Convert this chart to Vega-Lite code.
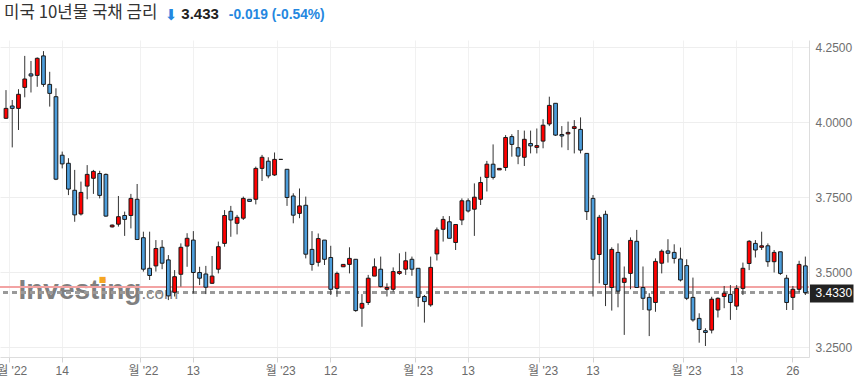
{
  "$schema": "https://vega.github.io/schema/vega-lite/v6.json",
  "width": 809,
  "height": 317,
  "autosize": {"type": "none"},
  "padding": {"left": 0, "top": 40, "right": 51, "bottom": 35},
  "background": "white",
  "config": {"view": {"stroke": null}, "font": "Liberation Sans"},
  "data": {"values": [
    {"d":"2022-10-31","o":4.014,"h":4.108,"l":4.012,"c":4.047},
    {"d":"2022-11-01","o":4.055,"h":4.075,"l":3.917,"c":4.047},
    {"d":"2022-11-02","o":4.047,"h":4.111,"l":3.975,"c":4.094},
    {"d":"2022-11-03","o":4.117,"h":4.222,"l":4.084,"c":4.145},
    {"d":"2022-11-04","o":4.162,"h":4.205,"l":4.100,"c":4.155},
    {"d":"2022-11-07","o":4.157,"h":4.217,"l":4.119,"c":4.214},
    {"d":"2022-11-08","o":4.222,"h":4.238,"l":4.119,"c":4.127},
    {"d":"2022-11-09","o":4.127,"h":4.169,"l":4.053,"c":4.097},
    {"d":"2022-11-10","o":4.086,"h":4.114,"l":3.808,"c":3.811},
    {"d":"2022-11-14","o":3.891,"h":3.903,"l":3.847,"c":3.862},
    {"d":"2022-11-15","o":3.864,"h":3.881,"l":3.758,"c":3.778},
    {"d":"2022-11-16","o":3.774,"h":3.842,"l":3.669,"c":3.692},
    {"d":"2022-11-17","o":3.695,"h":3.803,"l":3.690,"c":3.767},
    {"d":"2022-11-18","o":3.788,"h":3.858,"l":3.744,"c":3.827},
    {"d":"2022-11-21","o":3.814,"h":3.842,"l":3.762,"c":3.837},
    {"d":"2022-11-22","o":3.830,"h":3.839,"l":3.747,"c":3.757},
    {"d":"2022-11-23","o":3.827,"h":3.830,"l":3.686,"c":3.688},
    {"d":"2022-11-24","o":3.652,"h":3.660,"l":3.650,"c":3.658},
    {"d":"2022-11-25","o":3.661,"h":3.755,"l":3.653,"c":3.686},
    {"d":"2022-11-28","o":3.690,"h":3.703,"l":3.622,"c":3.677},
    {"d":"2022-11-29","o":3.690,"h":3.762,"l":3.647,"c":3.747},
    {"d":"2022-11-30","o":3.744,"h":3.795,"l":3.608,"c":3.610},
    {"d":"2022-12-01","o":3.616,"h":3.636,"l":3.503,"c":3.511},
    {"d":"2022-12-02","o":3.514,"h":3.636,"l":3.475,"c":3.490},
    {"d":"2022-12-05","o":3.522,"h":3.608,"l":3.503,"c":3.580},
    {"d":"2022-12-06","o":3.584,"h":3.608,"l":3.511,"c":3.531},
    {"d":"2022-12-07","o":3.542,"h":3.558,"l":3.408,"c":3.422},
    {"d":"2022-12-08","o":3.434,"h":3.508,"l":3.420,"c":3.486},
    {"d":"2022-12-09","o":3.494,"h":3.597,"l":3.453,"c":3.584},
    {"d":"2022-12-12","o":3.588,"h":3.631,"l":3.519,"c":3.614},
    {"d":"2022-12-13","o":3.608,"h":3.638,"l":3.430,"c":3.500},
    {"d":"2022-12-14","o":3.500,"h":3.519,"l":3.458,"c":3.481},
    {"d":"2022-12-15","o":3.495,"h":3.522,"l":3.428,"c":3.451},
    {"d":"2022-12-16","o":3.464,"h":3.555,"l":3.462,"c":3.488},
    {"d":"2022-12-19","o":3.511,"h":3.603,"l":3.497,"c":3.586},
    {"d":"2022-12-20","o":3.597,"h":3.708,"l":3.586,"c":3.690},
    {"d":"2022-12-21","o":3.704,"h":3.722,"l":3.619,"c":3.675},
    {"d":"2022-12-22","o":3.664,"h":3.692,"l":3.627,"c":3.684},
    {"d":"2022-12-23","o":3.681,"h":3.753,"l":3.675,"c":3.747},
    {"d":"2022-12-26","o":3.744,"h":3.744,"l":3.737,"c":3.737},
    {"d":"2022-12-27","o":3.744,"h":3.853,"l":3.727,"c":3.847},
    {"d":"2022-12-28","o":3.847,"h":3.892,"l":3.805,"c":3.884},
    {"d":"2022-12-29","o":3.871,"h":3.884,"l":3.814,"c":3.822},
    {"d":"2022-12-30","o":3.825,"h":3.900,"l":3.822,"c":3.877},
    {"d":"2023-01-02","o":3.877,"h":3.877,"l":3.877,"c":3.877},
    {"d":"2023-01-03","o":3.844,"h":3.844,"l":3.722,"c":3.750},
    {"d":"2023-01-04","o":3.755,"h":3.764,"l":3.664,"c":3.691},
    {"d":"2023-01-05","o":3.697,"h":3.780,"l":3.681,"c":3.722},
    {"d":"2023-01-06","o":3.724,"h":3.753,"l":3.547,"c":3.561},
    {"d":"2023-01-09","o":3.577,"h":3.638,"l":3.506,"c":3.527},
    {"d":"2023-01-10","o":3.534,"h":3.630,"l":3.520,"c":3.613},
    {"d":"2023-01-11","o":3.608,"h":3.608,"l":3.525,"c":3.544},
    {"d":"2023-01-12","o":3.550,"h":3.589,"l":3.425,"c":3.444},
    {"d":"2023-01-13","o":3.447,"h":3.503,"l":3.419,"c":3.497},
    {"d":"2023-01-16","o":3.519,"h":3.527,"l":3.519,"c":3.527},
    {"d":"2023-01-17","o":3.527,"h":3.584,"l":3.497,"c":3.547},
    {"d":"2023-01-18","o":3.544,"h":3.544,"l":3.369,"c":3.373},
    {"d":"2023-01-19","o":3.381,"h":3.428,"l":3.319,"c":3.397},
    {"d":"2023-01-20","o":3.400,"h":3.492,"l":3.392,"c":3.481},
    {"d":"2023-01-23","o":3.488,"h":3.547,"l":3.488,"c":3.519},
    {"d":"2023-01-24","o":3.511,"h":3.553,"l":3.450,"c":3.453},
    {"d":"2023-01-25","o":3.444,"h":3.464,"l":3.420,"c":3.450},
    {"d":"2023-01-26","o":3.444,"h":3.517,"l":3.436,"c":3.503},
    {"d":"2023-01-27","o":3.497,"h":3.564,"l":3.492,"c":3.503},
    {"d":"2023-01-30","o":3.511,"h":3.569,"l":3.492,"c":3.539},
    {"d":"2023-01-31","o":3.544,"h":3.553,"l":3.489,"c":3.511},
    {"d":"2023-02-01","o":3.514,"h":3.514,"l":3.386,"c":3.417},
    {"d":"2023-02-02","o":3.420,"h":3.425,"l":3.333,"c":3.403},
    {"d":"2023-02-03","o":3.392,"h":3.553,"l":3.386,"c":3.517},
    {"d":"2023-02-06","o":3.562,"h":3.650,"l":3.540,"c":3.642},
    {"d":"2023-02-07","o":3.644,"h":3.688,"l":3.603,"c":3.677},
    {"d":"2023-02-08","o":3.669,"h":3.688,"l":3.614,"c":3.614},
    {"d":"2023-02-09","o":3.600,"h":3.660,"l":3.575,"c":3.660},
    {"d":"2023-02-10","o":3.675,"h":3.747,"l":3.658,"c":3.739},
    {"d":"2023-02-13","o":3.739,"h":3.747,"l":3.700,"c":3.705},
    {"d":"2023-02-14","o":3.711,"h":3.797,"l":3.622,"c":3.751},
    {"d":"2023-02-15","o":3.744,"h":3.819,"l":3.725,"c":3.800},
    {"d":"2023-02-16","o":3.817,"h":3.872,"l":3.770,"c":3.861},
    {"d":"2023-02-17","o":3.861,"h":3.927,"l":3.810,"c":3.817},
    {"d":"2023-02-20","o":3.842,"h":3.847,"l":3.842,"c":3.847},
    {"d":"2023-02-21","o":3.850,"h":3.958,"l":3.839,"c":3.950},
    {"d":"2023-02-22","o":3.953,"h":3.961,"l":3.886,"c":3.927},
    {"d":"2023-02-23","o":3.916,"h":3.975,"l":3.861,"c":3.888},
    {"d":"2023-02-24","o":3.884,"h":3.973,"l":3.855,"c":3.944},
    {"d":"2023-02-27","o":3.930,"h":3.973,"l":3.897,"c":3.922},
    {"d":"2023-02-28","o":3.917,"h":3.980,"l":3.897,"c":3.923},
    {"d":"2023-03-01","o":3.938,"h":4.011,"l":3.914,"c":3.991},
    {"d":"2023-03-02","o":3.995,"h":4.086,"l":3.988,"c":4.057},
    {"d":"2023-03-03","o":4.064,"h":4.064,"l":3.955,"c":3.958},
    {"d":"2023-03-06","o":3.960,"h":3.988,"l":3.917,"c":3.955},
    {"d":"2023-03-07","o":3.962,"h":4.003,"l":3.908,"c":3.967},
    {"d":"2023-03-08","o":3.980,"h":4.008,"l":3.897,"c":3.986},
    {"d":"2023-03-09","o":3.977,"h":4.017,"l":3.897,"c":3.908},
    {"d":"2023-03-10","o":3.897,"h":3.897,"l":3.675,"c":3.703},
    {"d":"2023-03-13","o":3.747,"h":3.758,"l":3.420,"c":3.544},
    {"d":"2023-03-14","o":3.560,"h":3.692,"l":3.464,"c":3.684},
    {"d":"2023-03-15","o":3.694,"h":3.706,"l":3.388,"c":3.460},
    {"d":"2023-03-16","o":3.450,"h":3.584,"l":3.373,"c":3.577},
    {"d":"2023-03-17","o":3.567,"h":3.597,"l":3.384,"c":3.438},
    {"d":"2023-03-20","o":3.467,"h":3.520,"l":3.292,"c":3.481},
    {"d":"2023-03-21","o":3.497,"h":3.617,"l":3.444,"c":3.607},
    {"d":"2023-03-22","o":3.604,"h":3.642,"l":3.450,"c":3.450},
    {"d":"2023-03-23","o":3.450,"h":3.520,"l":3.375,"c":3.414},
    {"d":"2023-03-24","o":3.417,"h":3.431,"l":3.288,"c":3.375},
    {"d":"2023-03-27","o":3.400,"h":3.547,"l":3.369,"c":3.537},
    {"d":"2023-03-28","o":3.531,"h":3.577,"l":3.497,"c":3.571},
    {"d":"2023-03-29","o":3.572,"h":3.611,"l":3.533,"c":3.564},
    {"d":"2023-03-30","o":3.567,"h":3.594,"l":3.530,"c":3.547},
    {"d":"2023-03-31","o":3.545,"h":3.583,"l":3.470,"c":3.475},
    {"d":"2023-04-03","o":3.523,"h":3.544,"l":3.408,"c":3.414},
    {"d":"2023-04-04","o":3.417,"h":3.483,"l":3.336,"c":3.342},
    {"d":"2023-04-05","o":3.347,"h":3.364,"l":3.266,"c":3.310},
    {"d":"2023-04-06","o":3.306,"h":3.314,"l":3.255,"c":3.300},
    {"d":"2023-04-07","o":3.308,"h":3.419,"l":3.297,"c":3.411},
    {"d":"2023-04-10","o":3.375,"h":3.417,"l":3.350,"c":3.414},
    {"d":"2023-04-11","o":3.420,"h":3.455,"l":3.381,"c":3.431},
    {"d":"2023-04-12","o":3.427,"h":3.458,"l":3.342,"c":3.400},
    {"d":"2023-04-13","o":3.388,"h":3.458,"l":3.375,"c":3.447},
    {"d":"2023-04-14","o":3.447,"h":3.533,"l":3.425,"c":3.514},
    {"d":"2023-04-17","o":3.530,"h":3.608,"l":3.508,"c":3.604},
    {"d":"2023-04-18","o":3.597,"h":3.608,"l":3.550,"c":3.575},
    {"d":"2023-04-19","o":3.584,"h":3.636,"l":3.575,"c":3.589},
    {"d":"2023-04-20","o":3.589,"h":3.597,"l":3.519,"c":3.536},
    {"d":"2023-04-21","o":3.536,"h":3.575,"l":3.500,"c":3.567},
    {"d":"2023-04-24","o":3.569,"h":3.569,"l":3.492,"c":3.497},
    {"d":"2023-04-25","o":3.481,"h":3.492,"l":3.375,"c":3.400},
    {"d":"2023-04-26","o":3.417,"h":3.455,"l":3.375,"c":3.444},
    {"d":"2023-04-27","o":3.444,"h":3.539,"l":3.434,"c":3.527},
    {"d":"2023-04-28","o":3.522,"h":3.553,"l":3.425,"c":3.433}
  ]},
  "layer": [
    {
      "transform": [{"filter": "datum.d == '2022-11-02'"}],
      "mark": {"type": "text", "text": "Investing", "align": "left", "baseline": "alphabetic", "dx": 0, "font": "Liberation Sans", "fontSize": 28, "fontWeight": "bold", "fill": "#7a7a7a", "opacity": 0.95},
      "encoding": {
        "x": {"field": "d", "type": "ordinal", "axis": null},
        "y": {"datum": 3.4107, "axis": null}
      }
    },
    {
      "transform": [{"filter": "datum.d == '2022-12-01'"}],
      "mark": {"type": "text", "text": ".com", "align": "left", "baseline": "alphabetic", "dx": -2, "font": "Liberation Sans", "fontSize": 17, "fill": "#7a7a7a", "opacity": 0.95},
      "encoding": {"x": {"field": "d", "type": "ordinal", "axis": null}, "y": {"datum": 3.4107, "axis": null}}
    },
    {
      "transform": [{"filter": "datum.d == '2022-11-22'"}],
      "mark": {"type": "text", "text": "■", "align": "center", "baseline": "middle", "dx": 2.8, "font": "DejaVu Sans", "fontSize": 8, "fill": "#f5a623"},
      "encoding": {"x": {"field": "d", "type": "ordinal", "axis": null}, "y": {"datum": 3.475, "axis": null}}
    },
    {
      "mark": {"type": "rule", "color": "#f2a3a3", "strokeWidth": 1},
      "encoding": {"y": {"datum": 3.452, "axis": null}}
    },
    {
      "mark": {"type": "rule", "color": "#999999", "strokeWidth": 2, "strokeDash": [5, 4]},
      "encoding": {"y": {"datum": 3.433, "axis": null}}
    },
    {
      "mark": {"type": "rule", "color": "#333333", "strokeWidth": 1},
      "encoding": {
        "x": {
          "field": "d", "type": "ordinal",
          "scale": {"type": "band", "paddingInner": 0, "paddingOuter": 0.272, "align": 0.847},
          "axis": {
            "orient": "bottom",
            "values": ["2022-11-01", "2022-12-01", "2023-01-02", "2023-02-01", "2023-03-01", "2023-04-03"],
            "bandPosition": 0,
            "labelExpr": "\"월 '\" + substring(datum.value, 2, 4)",
            "title": null,
            "grid": true, "gridColor": "#f1f1f1",
            "domain": true, "domainColor": "#dddddd",
            "ticks": true, "tickColor": "#d4d4d4", "tickSize": 5,
            "labelAngle": 0, "labelPadding": 3.5, "labelFontSize": 12,
            "labelColor": "#6b6b6b", "labelFont": "Liberation Sans, Noto Sans CJK KR"
          }
        },
        "y": {
          "field": "l", "type": "quantitative", "title": null,
          "scale": {"domain": [3.2183, 4.275], "nice": false, "zero": false},
          "axis": {
            "orient": "right",
            "values": [3.25, 3.5, 3.75, 4, 4.25, 3.433],
            "format": ".4f",
            "labelFont": "Liberation Sans",
            "labelFontSize": 12,
            "labelAlign": "left",
            "labelBaseline": "middle",
            "labelOverlap": false,
            "labelColor": {"condition": {"test": "datum.value == 3.433", "value": "#ffffff"}, "value": "#6e6e6e"},
            "tickSize": 44,
            "tickWidth": {"condition": {"test": "datum.value == 3.433", "value": 18}, "value": 0},
            "tickColor": {"condition": {"test": "datum.value == 3.433", "value": "#222222"}, "value": "#ffffff"},
            "labelPadding": -38,
            "grid": true,
            "gridColor": {"condition": {"test": "datum.value == 3.433", "value": "#ffffff"}, "value": "#eeeeee"},
            "gridOpacity": {"condition": {"test": "datum.value == 3.433", "value": 0}, "value": 1},
            "domainColor": "#dddddd"
          }
        },
        "y2": {"field": "h"}
      }
    },
    {
      "mark": {"type": "bar", "width": {"band": 0.6}, "stroke": "#1a1a1a", "strokeWidth": 1},
      "encoding": {
        "x": {
          "field": "d", "type": "ordinal",
          "axis": {
            "orient": "bottom",
            "values": ["2022-11-14", "2022-12-13", "2023-01-12", "2023-02-13", "2023-03-13", "2023-04-13", "2023-04-26"],
            "bandPosition": 0.5,
            "labelExpr": "substring(datum.value, 8, 10)",
            "title": null,
            "grid": true, "gridColor": "#f1f1f1",
            "domain": false,
            "ticks": true, "tickColor": "#d4d4d4", "tickSize": 5,
            "labelAngle": 0, "labelPadding": 3.5, "labelFontSize": 12,
            "labelColor": "#6b6b6b", "labelFont": "Liberation Sans"
          }
        },
        "y": {"field": "o", "type": "quantitative", "title": null, "axis": null},
        "y2": {"field": "c"},
        "fill": {"condition": {"test": "datum.c > datum.o", "value": "#ff0000"}, "value": "#4c9ddb"}
      }
    },
    {
      "transform": [{"filter": "datum.d == '2022-10-31'"}],
      "mark": {"type": "text", "text": "미국 10년물 국채 금리", "align": "left", "baseline": "alphabetic", "dx": -2, "font": "Noto Sans CJK KR", "fontSize": 16.8, "fill": "#333333"},
      "encoding": {"x": {"field": "d", "type": "ordinal", "axis": null}, "y": {"datum": 4.3467, "axis": null}}
    },
    {
      "transform": [{"filter": "datum.d == '2022-12-07'"}],
      "mark": {"type": "text", "text": "⬇", "align": "center", "baseline": "middle", "dx": 2.6, "font": "DejaVu Sans", "fontSize": 15, "fill": "#2487e0"},
      "encoding": {"x": {"field": "d", "type": "ordinal", "axis": null}, "y": {"datum": 4.36, "axis": null}}
    },
    {
      "transform": [{"filter": "datum.d == '2022-12-09'"}],
      "mark": {"type": "text", "text": "3.433", "align": "left", "baseline": "alphabetic", "dx": 0.5, "font": "Liberation Sans", "fontSize": 15, "fontWeight": "bold", "fill": "#222222"},
      "encoding": {"x": {"field": "d", "type": "ordinal", "axis": null}, "y": {"datum": 4.345, "axis": null}}
    },
    {
      "transform": [{"filter": "datum.d == '2022-12-21'"}],
      "mark": {"type": "text", "text": "-0.019 (-0.54%)", "align": "left", "baseline": "alphabetic", "dx": -2, "font": "Liberation Sans", "fontSize": 13.8, "fontWeight": "bold", "fill": "#2487e0"},
      "encoding": {"x": {"field": "d", "type": "ordinal", "axis": null}, "y": {"datum": 4.345, "axis": null}}
    }
  ],
  "resolve": {"axis": {"x": "independent", "y": "independent"}}
}
